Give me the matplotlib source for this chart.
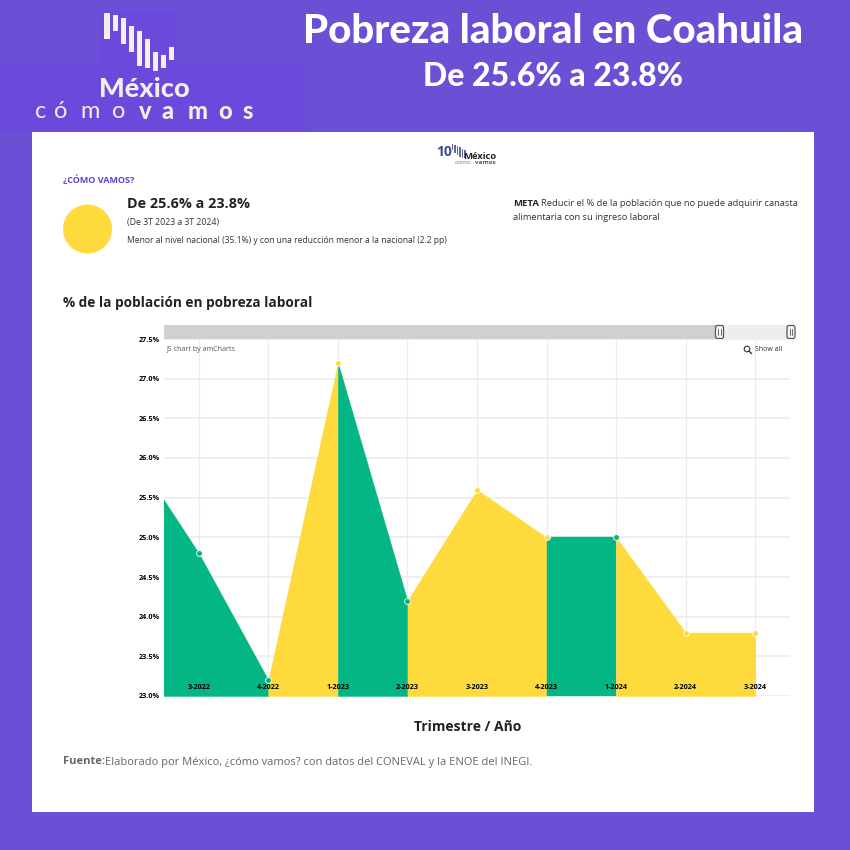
#!/usr/bin/env python3

import matplotlib
matplotlib.use('Agg')
import matplotlib.pyplot as plt
from matplotlib.patches import Circle, FancyBboxPatch, Rectangle

# Data (2-2022 lies left of the visible range, the zoom cuts it)
categories = ['2-2022', '3-2022', '4-2022', '1-2023', '2-2023', '3-2023', '4-2023', '1-2024', '2-2024', '3-2024']
values = [26.14, 24.8, 23.2, 27.2, 24.2, 25.6, 25.0, 25.0, 23.8, 23.8]
status = ['g', 'g', 'g', 'y', 'g', 'y', 'y', 'g', 'y', 'y']
y_ticks = [23.0, 23.5, 24.0, 24.5, 25.0, 25.5, 26.0, 26.5, 27.0, 27.5]

GREEN = '#05B685'
YELLOW = '#FFDA3D'
PURPLE = '#6A50D4'
colors = {'g': GREEN, 'y': YELLOW}

plt.rcParams['font.family'] = ['Open Sans', 'DejaVu Sans']

fig = plt.figure(figsize=(8.5, 8.5), dpi=100, facecolor=PURPLE)

# Page layer in pixel coordinates
bg = fig.add_axes([0, 0, 1, 1], zorder=0)
bg.set_xlim(0, 850)
bg.set_ylim(850, 0)
bg.axis('off')

bg.add_patch(Rectangle((0, 65), 305, 67, color='#6B49DC', lw=0))
bg.add_patch(Rectangle((98, 10), 78, 55, color='#6B4ADB', lw=0))
bg.add_patch(Rectangle((32, 132), 782, 680, color='white', lw=0))

# Logo
logo_bars = [(104.5, 13, 39), (113, 15, 31), (121, 18, 44), (129, 26, 52), (137, 31, 66),
             (145, 39, 68), (153, 52, 71), (161, 55, 68), (169, 47, 60)]
for x, y0, y1 in logo_bars:
    bg.add_patch(Rectangle((x, y0), 5.2, y1 - y0, color='#F0EFEA', lw=0))
bg.text(144, 89, 'México', color='#F0EFEA', fontsize=19.5, fontweight='black', family='Lato',
        ha='center', va='center')
for x, ch in zip([41, 61, 90, 119], 'cómo'):
    bg.text(x, 111, ch, color='#F0EFEA', fontsize=17, family='Lato', ha='center', va='center')
for x, ch in zip([145, 168, 198, 225, 248], 'vamos'):
    bg.text(x, 111, ch, color='#F0EFEA', fontsize=17, family='Lato', fontweight='black',
            ha='center', va='center')

# Header
bg.text(553, 31, 'Pobreza laboral en Coahuila', color='white', fontsize=29, fontweight='black',
        family='Lato', ha='center', va='center')
bg.text(553, 76, 'De 25.6% a 23.8%', color='white', fontsize=23, fontweight='black',
        family='Lato', ha='center', va='center')

# Small logo on the white card
bg.text(444, 152, '10', color='#3C4C8C', fontsize=10, fontweight='bold', ha='center', va='center')
small_bars = [(452, 144, 150), (454.5, 145, 153), (457, 146, 155), (459.5, 147, 157),
              (462, 149, 158), (464.5, 150, 158)]
for x, y0, y1 in small_bars:
    bg.add_patch(Rectangle((x, y0), 1.2, y1 - y0, color='#5E6A9E', lw=0))
bg.text(480, 156, 'México', color='#222222', fontsize=6.8, fontweight='bold', ha='center', va='center')
bg.text(463, 162.5, 'cómo', color='#7A6FB8', fontsize=4.6, ha='center', va='center')
bg.text(485, 162.5, 'vamos', color='#555577', fontsize=4.6, fontweight='bold', ha='center', va='center')

# Summary block
bg.text(63, 180, '¿CÓMO VAMOS?', color='#5B3FD6', fontsize=6.5, fontweight='bold', va='center')
bg.add_patch(Circle((87.5, 229), 24.5, color=YELLOW, lw=0))
bg.text(127, 204, 'De 25.6% a 23.8%', color='#222222', fontsize=10.4, fontweight='bold', va='center')
bg.text(127, 222, '(De 3T 2023 a 3T 2024)', color='#333333', fontsize=6.3, va='center')
bg.text(127, 240, 'Menor al nivel nacional (35.1%) y con una reducción menor a la nacional (2.2 pp)',
        color='#333333', fontsize=6.15, va='center')
bg.text(513, 203, 'META', color='#222222', fontsize=6.8, fontweight='bold', va='center')
bg.text(541, 203, 'Reducir el % de la población que no puede adquirir canasta',
        color='#333333', fontsize=6.75, va='center')
bg.text(513, 217, 'alimentaria con su ingreso laboral', color='#333333', fontsize=6.75, va='center')
bg.text(63, 303, '% de la población en pobreza laboral', color='#222222', fontsize=9.8,
        fontweight='bold', va='center')

# Scrollbar above the plot
bg.add_patch(Rectangle((164, 325), 556, 14, color='#D0D0D0', lw=0))
bg.add_patch(Rectangle((720, 325), 71, 14, color='#EEEEEE', lw=0))
for x in [719.5, 791]:
    bg.add_patch(FancyBboxPatch((x - 4, 325.5), 8, 13, boxstyle='round,pad=0,rounding_size=2',
                                fc='#F8F8F8', ec='#555555', lw=0.9, zorder=3))
    bg.plot([x - 1.3, x - 1.3], [329, 335], color='#555555', lw=0.6, zorder=4)
    bg.plot([x + 1.3, x + 1.3], [329, 335], color='#555555', lw=0.6, zorder=4)

# Axis titles and source
bg.text(468, 727, 'Trimestre / Año', color='#222222', fontsize=10, fontweight='bold',
        ha='center', va='center')
bg.text(63, 762, 'Fuente:', color='#666666', fontsize=8, fontweight='bold', va='center')
bg.text(105, 762, 'Elaborado por México, ¿cómo vamos? con datos del CONEVAL y la ENOE del INEGI.',
        color='#666666', fontsize=8, va='center')

# Main chart
ax = fig.add_axes([164 / 850, 1 - 696 / 850, 626 / 850, 357 / 850], zorder=1)
ax.patch.set_alpha(0)
positions = list(range(-1, len(values) - 1))

# Consecutive segments of one colour become one polygon, each segment takes the colour of its end point
start = 0
for i in range(1, len(values)):
    if i == len(values) - 1 or status[i + 1] != status[i]:
        c = colors[status[i]]
        ax.fill_between(positions[start:i + 1], values[start:i + 1], 23.0, facecolor=c, edgecolor=c,
                        lw=0.3, zorder=2)
        start = i

for i in range(1, len(values)):
    ax.plot(positions[i], values[i], 'o', ms=4.2, mfc=colors[status[i]], mec='white', mew=0.6,
            zorder=3)

ax.set_xlim(-0.5, 8.5)
ax.set_ylim(23.0, 27.5)
ax.set_xticks(positions[1:])
ax.set_xticklabels([])
ax.set_yticks(y_ticks)
ax.set_yticklabels([f'{v:.1f}%' for v in y_ticks], fontsize=5.2, fontweight='bold', color='black')
ax.tick_params(axis='x', length=0)
ax.tick_params(axis='y', length=0, pad=3)
ax.grid(axis='y', color='#ECECEC', lw=1.2, zorder=1)
ax.grid(axis='x', color='#ECECEC', lw=0.9, zorder=1)
ax.set_axisbelow('line')
for s in ax.spines.values():
    s.set_visible(False)

# Category labels sit inside the plot, over the fills, so they get their own twin axis
top = ax.twiny()
top.set_xlim(ax.get_xlim())
top.set_xticks(positions[1:])
top.set_xticklabels(categories[1:], fontsize=5.2, fontweight='bold', color='black')
top.xaxis.set_ticks_position('bottom')
top.xaxis.set_label_position('bottom')
top.tick_params(axis='x', length=0, pad=-8.6)
for s in top.spines.values():
    s.set_visible(False)

# amCharts credit and zoom-out button
ax.text(167, 349, 'JS chart by amCharts', color='#555555', fontsize=5.1, va='center',
        transform=bg.transData)
ax.text(755, 349.5, 'Show all', color='#333333', fontsize=5, va='center', transform=bg.transData)
ax.add_patch(Circle((747, 349), 2.8, fc='white', ec='#333333', lw=0.8, transform=bg.transData, zorder=4))
ax.plot([749, 751.5], [351, 353.5], color='#333333', lw=1, transform=bg.transData, zorder=4)

plt.savefig('out.png', dpi=100, facecolor=fig.get_facecolor())
